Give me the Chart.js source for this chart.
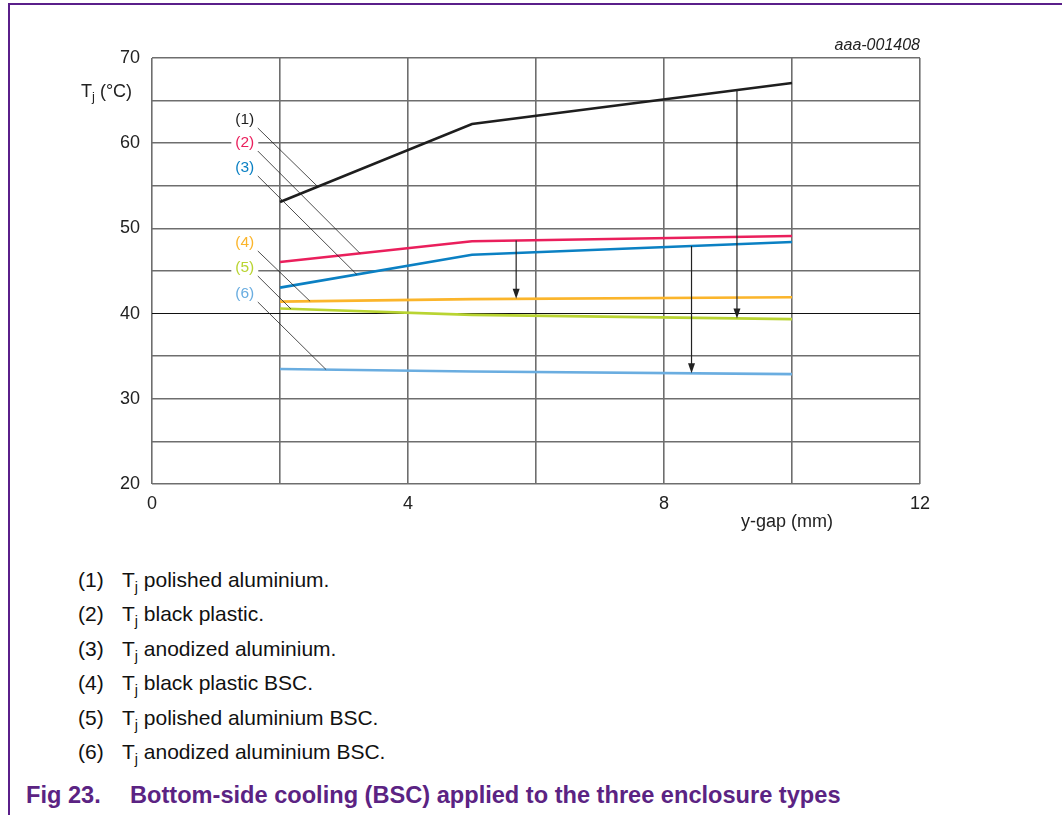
<!DOCTYPE html>
<html>
<head>
<meta charset="utf-8">
<script src="https://cdn.jsdelivr.net/npm/chart.js@4"></script>
<style>
  body { margin: 0; background: #fff; font-family: "Liberation Sans", Arial, sans-serif; }
  #wrap { position: relative; width: 1062px; height: 815px; overflow: hidden; }
  #chartBox { position: absolute; left: 0; top: 0; width: 1062px; height: 540px; }
  .frameTop { position: absolute; left: 8px; top: 3px; width: 1054px; height: 2px; background: #5a1f8a; }
  .frameLeft { position: absolute; left: 8px; top: 3px; width: 2px; height: 812px; background: #5a1f8a; }
  .notes { position: absolute; left: 0; top: 563px; font-size: 21px; line-height: 34.4px; color: #111; }
  .notes div { position: relative; height: 34.4px; }
  .notes .num { position: absolute; left: 78px; }
  .notes .txt { position: absolute; left: 122px; white-space: nowrap; }
  sub { font-size: 0.68em; vertical-align: -0.32em; line-height: 0; }
  .caption { position: absolute; top: 780px; font-size: 23.6px; font-weight: bold; color: #5b2383; white-space: nowrap; line-height: 30px; }
</style>
</head>
<body>
<div id="wrap">
  <div class="frameTop"></div>
  <div class="frameLeft"></div>
  <div id="chartBox"><canvas id="myChart"></canvas></div>
  <div class="notes" id="notes"></div>
  <div class="caption" style="left:26px">Fig 23.</div>
  <div class="caption" style="left:130px">Bottom-side cooling (BSC) applied to the three enclosure types</div>
</div>
<script>
// y-gap (mm) where the curves were measured
const yGap = [2, 5, 10];

// junction temperature, deg C
const tjPolishedAl = [53.1, 62.25, 67.07];
const tjBlackPlastic = [46.05, 48.5, 49.1];
const tjAnodizedAl = [43.05, 46.9, 48.4];
const tjBlackPlasticBSC = [41.4, 41.7, 41.92];
const tjPolishedAlBSC = [40.6, 39.85, 39.35];
const tjAnodizedAlBSC = [33.5, 33.2, 32.9];

const seriesNames = ['(1)', '(2)', '(3)', '(4)', '(5)', '(6)'];
const seriesColors = ['#1e1e1e', '#ea1f5c', '#0b80c3', '#fbb52b', '#b9d432', '#6aade0'];
const noteTexts = ['polished aluminium.', 'black plastic.', 'anodized aluminium.',
                   'black plastic BSC.', 'polished aluminium BSC.', 'anodized aluminium BSC.'];

// callout labels, and where their leader lines hit the curve (x in mm)
const calloutX = 1.45;
const calloutY = [62.72, 60.02, 57.09, 48.29, 45.35, 42.3];
const leaderEndX = [2.59, 3.25, 3.2, 2.47, 2.17, 2.72];

// arrows: x position, from curve index, to curve index
const arrowX = [5.69, 8.43, 9.14];
const arrowFrom = [1, 2, 0];
const arrowTo = [3, 5, 4];

const xTicks = [0, 4, 8, 12];
const yTicks = [20, 30, 40, 50, 60, 70];

const allSeries = [tjPolishedAl, tjBlackPlastic, tjAnodizedAl, tjBlackPlasticBSC, tjPolishedAlBSC, tjAnodizedAlBSC];

const FONT = '"Liberation Sans", Arial, sans-serif';

let interp = (vals, x) => {
    for (let i = 0; i < yGap.length - 1; i++) {
        if (x >= yGap[i] && x <= yGap[i + 1]) {
            let t = (x - yGap[i]) / (yGap[i + 1] - yGap[i]);
            return vals[i] + t * (vals[i + 1] - vals[i]);
        }
    }
    return vals[vals.length - 1];
};

// notes list under the chart
const notesEl = document.getElementById('notes');
seriesNames.forEach((n, i) => {
    const row = document.createElement('div');
    row.innerHTML = '<span class="num">' + n + '</span><span class="txt">T<sub>j</sub> ' + noteTexts[i] + '</span>';
    notesEl.appendChild(row);
});

const extras = {
    id: 'extras',
    afterDatasetsDraw(chart) {
        const c = chart.ctx;
        const xs = chart.scales.x, ys = chart.scales.y;
        const area = chart.chartArea;
        c.save();

        // arrows
        c.strokeStyle = '#222';
        c.fillStyle = '#222';
        c.lineWidth = 1.2;
        arrowX.forEach((ax, i) => {
            const px = xs.getPixelForValue(ax);
            const y0 = ys.getPixelForValue(interp(allSeries[arrowFrom[i]], ax));
            const y1 = ys.getPixelForValue(interp(allSeries[arrowTo[i]], ax));
            c.beginPath();
            c.moveTo(px, y0);
            c.lineTo(px, y1 - 8);
            c.stroke();
            c.beginPath();
            c.moveTo(px - 3.5, y1 - 10);
            c.lineTo(px + 3.5, y1 - 10);
            c.lineTo(px, y1);
            c.closePath();
            c.fill();
        });

        // callouts with leader lines
        c.font = '15.5px ' + FONT;
        c.textAlign = 'center';
        c.textBaseline = 'middle';
        seriesNames.forEach((n, i) => {
            const lx = xs.getPixelForValue(calloutX);
            const ly = ys.getPixelForValue(calloutY[i]);
            const w = c.measureText(n).width;
            c.fillStyle = '#fff';
            c.fillRect(lx - w / 2 - 4, ly - 9, w + 8, 18);
            c.fillStyle = seriesColors[i];
            c.fillText(n, lx, ly);
            const ex = xs.getPixelForValue(leaderEndX[i]);
            const ey = ys.getPixelForValue(interp(allSeries[i], leaderEndX[i]));
            c.strokeStyle = '#222';
            c.lineWidth = 0.8;
            c.beginPath();
            c.moveTo(lx + 13, ly + 8);
            c.lineTo(ex, ey);
            c.stroke();
        });

        // axis titles and figure code
        c.fillStyle = '#222';
        c.textAlign = 'left';
        c.textBaseline = 'alphabetic';
        c.font = '18px ' + FONT;
        let tx = area.left - 71;
        c.fillText('T', tx, area.top + 39);
        tx += c.measureText('T').width;
        c.font = '13px ' + FONT;
        c.fillText('j', tx, area.top + 43);
        tx += c.measureText('j').width;
        c.font = '18px ' + FONT;
        c.fillText(' (°C)', tx, area.top + 39);

        c.textAlign = 'right';
        c.textBaseline = 'middle';
        c.fillText('y-gap (mm)', area.right - 87, area.bottom + 38);

        c.font = 'italic 16px ' + FONT;
        c.fillText('aaa-001408', area.right, area.top - 12);
        c.restore();
    }
};

new Chart(document.getElementById('myChart'), {
    type: 'line',
    data: {
        datasets: allSeries.map((vals, i) => ({
            label: seriesNames[i],
            data: vals.map((v, k) => ({ x: yGap[k], y: v })),
            borderColor: seriesColors[i],
            borderWidth: 2.6,
            pointRadius: 0,
            tension: 0
        }))
    },
    options: {
        responsive: true,
        maintainAspectRatio: false,
        animation: false,
        layout: { padding: { left: 0, top: 58, right: 142, bottom: 0 } },
        scales: {
            x: {
                type: 'linear',
                min: 0,
                max: 12,
                afterFit: (s) => { s.height = 56; },
                border: { display: false },
                grid: { color: '#6e6e6e', lineWidth: 1.6, drawTicks: false },
                ticks: {
                    stepSize: 2,
                    padding: 9,
                    color: '#222',
                    font: { size: 18, family: FONT },
                    callback: (v) => xTicks.includes(v) ? v : ''
                }
            },
            y: {
                min: 20,
                max: 70,
                afterFit: (s) => { s.width = 152; },
                border: { display: false },
                grid: {
                    drawTicks: false,
                    color: (ctx) => ctx.tick && ctx.tick.value === 40 ? '#111' : '#6e6e6e',
                    lineWidth: (ctx) => ctx.tick && ctx.tick.value === 40 ? 1 : 1.6
                },
                ticks: {
                    stepSize: 5,
                    padding: 12,
                    color: '#222',
                    font: { size: 18, family: FONT },
                    callback: (v) => yTicks.includes(v) ? v : ''
                }
            }
        },
        plugins: {
            legend: { display: false },
            tooltip: { enabled: false }
        }
    },
    plugins: [extras]
});
</script>
</body>
</html>
